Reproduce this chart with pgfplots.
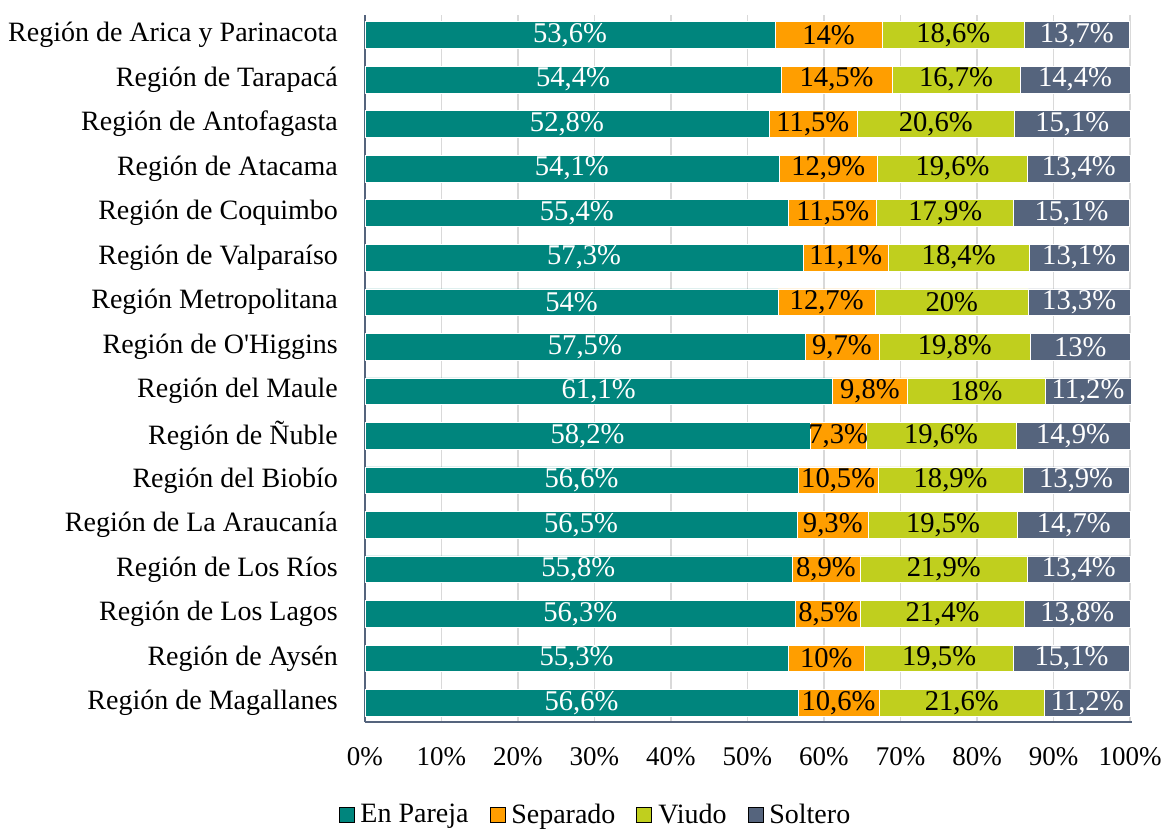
\documentclass[border=0pt]{standalone}
\usepackage{pgfplots}
\pgfplotsset{compat=1.18}
\usepackage{pgfplotstable}
\usepackage{fontspec}
\setmainfont{Liberation Serif}
\definecolor{cPar}{HTML}{00857D}
\definecolor{cSep}{HTML}{FF9E00}
\definecolor{cViu}{HTML}{C0CF1E}
\definecolor{cSol}{HTML}{55647D}
\pgfplotsset{/pgf/number format/assume math mode=true}
\pgfplotstableread{
a b c d
56.6 10.6 21.6 11.2
55.3 10 19.5 15.1
56.3 8.5 21.4 13.8
55.8 8.9 21.9 13.4
56.5 9.3 19.5 14.7
56.6 10.5 18.9 13.9
58.2 7.3 19.6 14.9
61.1 9.8 18 11.2
57.5 9.7 19.8 13
54 12.7 20 13.3
57.3 11.1 18.4 13.1
55.4 11.5 17.9 15.1
54.1 12.9 19.6 13.4
52.8 11.5 20.6 15.1
54.4 14.5 16.7 14.4
53.6 14 18.6 13.7
}\data
\begin{document}
\begin{tikzpicture}[font=\fontsize{13.5bp}{16bp}\selectfont]
\begin{axis}[
  xbar stacked,
  scale only axis,
  width=383.27bp, height=353.5bp,
  xmin=0, xmax=100.2,
  ymin=-0.43, ymax=15.45,
  bar width=0.6,
  xtick={0,10,...,100},
  xticklabel={\pgfmathprintnumber{\tick}\%},
  ytick={0,...,15},
  yticklabels={Región de Magallanes,Región de Aysén,Región de Los Lagos,Región de Los Ríos,Región de La Araucanía,Región del Biobío,Región de Ñuble,Región del Maule,Región de O\textquotesingle Higgins,Región Metropolitana,Región de Valparaíso,Región de Coquimbo,Región de Atacama,Región de Antofagasta,Región de Tarapacá,Región de Arica y Parinacota},
  tick style={draw=none},
  xticklabel style={yshift=-9bp},
  yticklabel style={xshift=-10bp, font=\fontsize{14bp}{16bp}\selectfont},
  xmajorgrids,
  major grid style={draw=black!15, line width=0.6bp},
  axis x line*=bottom, axis y line*=left,
  axis line style={-, draw=cSol, line width=1bp},
  point meta=explicit symbolic,
  nodes near coords={\pgfmathprintnumber[use comma,fixed,precision=1]{\pgfplotspointmeta}\%},
  every node near coord/.append style={anchor=center, inner sep=0pt, font=\fontsize{14.3bp}{16bp}\selectfont},
  legend columns=4,
  legend style={draw=none, fill=none, at={(axis description cs:0.302,-0.1315)}, anchor=center,
    font=\fontsize{14bp}{16bp}\selectfont,
    /tikz/every odd column/.append style={column sep=1bp},
    /tikz/every even column/.append style={column sep=8.5bp}},
  legend image code/.code={\fill[#1] (0bp,-3.6bp) rectangle (7.5bp,3.9bp);},
]
\addlegendimage{fill=cPar}
\addlegendimage{fill=cSep}
\addlegendimage{fill=cViu}
\addlegendimage{fill=cSol}
\addplot[fill=cPar, draw=white, line width=0.3bp, every node near coord/.append style={white}] table[x=a, y expr=\coordindex, meta=a] {\data};
\addplot[fill=cSep, draw=white, line width=0.3bp, every node near coord/.append style={black}] table[x=b, y expr=\coordindex, meta=b] {\data};
\addplot[fill=cViu, draw=white, line width=0.3bp, every node near coord/.append style={black}] table[x=c, y expr=\coordindex, meta=c] {\data};
\addplot[fill=cSol, draw=white, line width=0.3bp, every node near coord/.append style={white}] table[x=d, y expr=\coordindex, meta=d] {\data};
\legend{En Pareja,Separado,Viudo,Soltero}
\coordinate (BL) at (axis description cs:-0.476,-0.1542);
\coordinate (TR) at (axis description cs:1.0423,1.0212);
\end{axis}
\pgfresetboundingbox
\useasboundingbox (BL) rectangle (TR);
\end{tikzpicture}
\end{document}
